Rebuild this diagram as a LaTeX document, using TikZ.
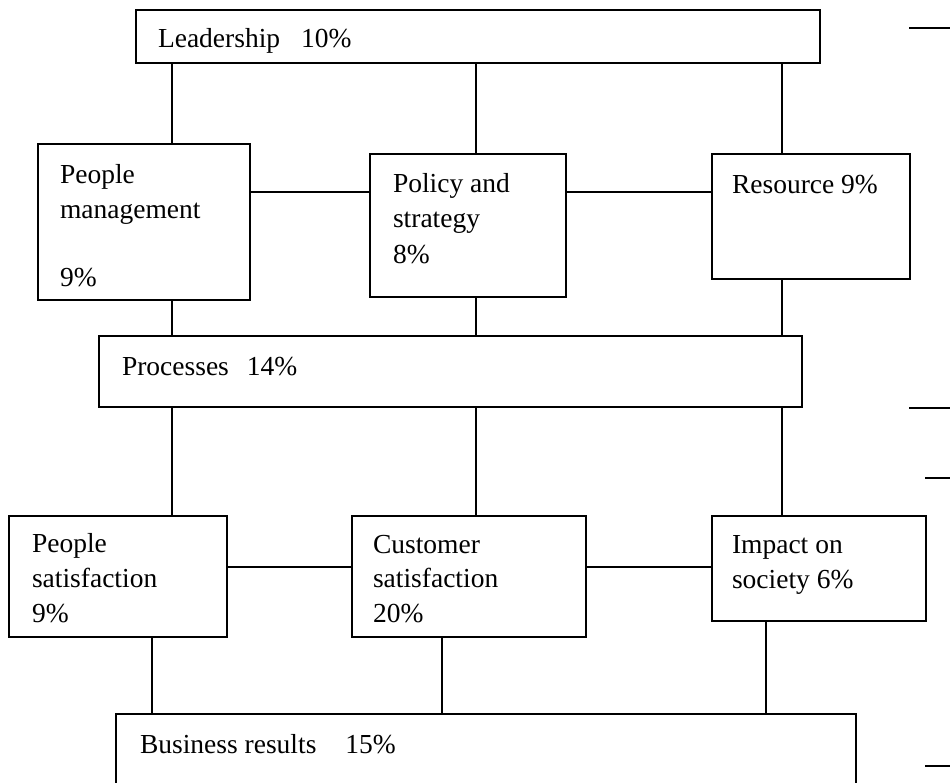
\documentclass[tikz,border=0pt]{standalone}
\usepackage{fontspec}
\setmainfont{Liberation Serif}
\begin{document}
\begin{tikzpicture}[x=1pt,y=-1pt,
  box/.style={draw=black,line width=2.4pt,rectangle,inner sep=0pt,fill=white},
  conn/.style={draw=black,line width=2.4pt},
  txt/.style={anchor=base west,inner sep=0pt,outer sep=0pt,font=\fontsize{27.5}{34}\selectfont}]
\useasboundingbox (0,0) rectangle (950,782);
\clip (0,0) rectangle (950,782);
% x positions of vertical connectors
\coordinate (xa) at (172,0);
\coordinate (xb) at (476,0);
\coordinate (xc) at (782,0);
\coordinate (xd) at (152,0);
\coordinate (xe) at (442,0);
\coordinate (xf) at (766,0);
\coordinate (ya) at (0,192);
\coordinate (yb) at (0,567);
% connectors (drawn first, boxes on top)
\draw[conn] (xa |- 0,63) -- (xa |- 0,144);
\draw[conn] (xb |- 0,63) -- (xb |- 0,154);
\draw[conn] (xc |- 0,63) -- (xc |- 0,154);
% boxes
\node[box,minimum width=684pt,minimum height=53pt] (lead) at (478,36.5) {};
\node[box,minimum width=212pt,minimum height=156pt] (pm) at (144,222) {};
\node[box,minimum width=196pt,minimum height=143pt] (pol) at (468,225.5) {};
\node[box,minimum width=198pt,minimum height=125pt] (res) at (811,216.5) {};
\node[box,minimum width=703pt,minimum height=71pt] (proc) at (450.5,371.5) {};
\node[box,minimum width=218pt,minimum height=121pt] (psat) at (118,576.5) {};
\node[box,minimum width=234pt,minimum height=121pt] (cust) at (469,576.5) {};
\node[box,minimum width=214pt,minimum height=105pt] (imp) at (819,568.5) {};
\node[box,minimum width=740pt,minimum height=100pt] (bus) at (486,764) {};
% connectors between named boxes
\draw[conn] (xa |- lead.south) -- (xa |- pm.north);
\draw[conn] (xb |- lead.south) -- (xb |- pol.north);
\draw[conn] (xc |- lead.south) -- (xc |- res.north);
\draw[conn] (pm.east |- ya) -- (pol.west |- ya);
\draw[conn] (pol.east |- ya) -- (res.west |- ya);
\draw[conn] (xa |- pm.south) -- (xa |- proc.north);
\draw[conn] (xb |- pol.south) -- (xb |- proc.north);
\draw[conn] (xc |- res.south) -- (xc |- proc.north);
\draw[conn] (xa |- proc.south) -- (xa |- psat.north);
\draw[conn] (xb |- proc.south) -- (xb |- cust.north);
\draw[conn] (xc |- proc.south) -- (xc |- imp.north);
\draw[conn] (psat.east |- yb) -- (cust.west |- yb);
\draw[conn] (cust.east |- yb) -- (imp.west |- yb);
\draw[conn] (xd |- psat.south) -- (xd |- bus.north);
\draw[conn] (xe |- cust.south) -- (xe |- bus.north);
\draw[conn] (xf |- imp.south) -- (xf |- bus.north);
% short marks at the right edge
\coordinate (m1a) at (909,28);  \coordinate (m1b) at (950,28);
\coordinate (m2a) at (909,408); \coordinate (m2b) at (950,408);
\coordinate (m3a) at (925,478); \coordinate (m3b) at (950,478);
\coordinate (m4a) at (925,766); \coordinate (m4b) at (950,766);
\draw[conn] (m1a) -- (m1b);
\draw[conn] (m2a) -- (m2b);
\draw[conn] (m3a) -- (m3b);
\draw[conn] (m4a) -- (m4b);
% texts
\node[txt] (t1) at (158,47) {Leadership\hspace{21pt}10\%};
\node[txt] (t2) at (60,183) {People};
\node[txt] (t3) at (60,218) {management};
\node[txt] (t4) at (60,286) {9\%};
\node[txt] (t5) at (393,192) {Policy and};
\node[txt] (t6) at (393,227) {strategy};
\node[txt] (t7) at (393,263) {8\%};
\node[txt] (t8) at (732,193) {Resource 9\%};
\node[txt] (t9) at (122,375) {Processes\hspace{18pt}14\%};
\node[txt] (t10) at (32,552) {People};
\node[txt] (t11) at (32,587) {satisfaction};
\node[txt] (t12) at (32,622) {9\%};
\node[txt] (t13) at (373,553) {Customer};
\node[txt] (t14) at (373,587) {satisfaction};
\node[txt] (t15) at (373,622) {20\%};
\node[txt] (t16) at (732,553) {Impact on};
\node[txt] (t17) at (732,588) {society 6\%};
\node[txt] (t18) at (140,753) {Business results\hspace{29pt}15\%};
\end{tikzpicture}
\end{document}
